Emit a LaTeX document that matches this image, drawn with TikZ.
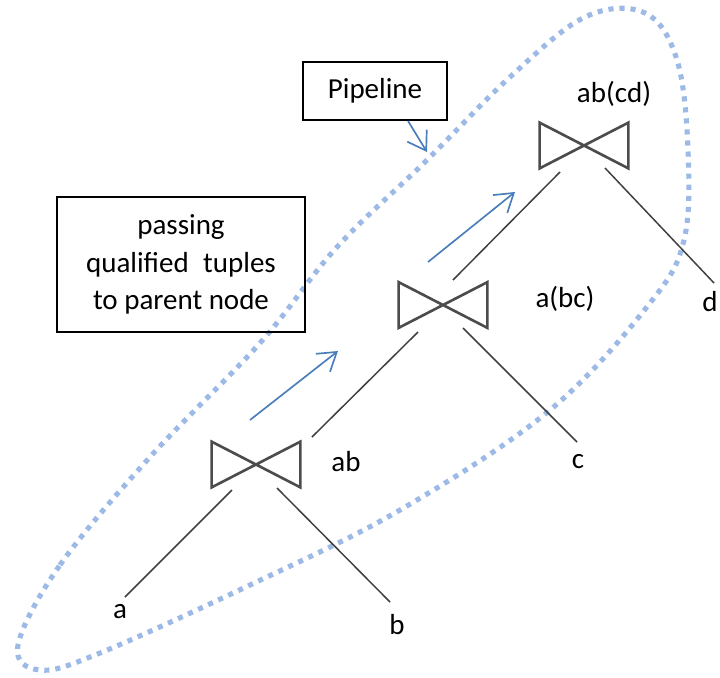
\documentclass[tikz,border=0pt]{standalone}
\usepackage{fontspec}
\setmainfont{Carlito}
\usetikzlibrary{arrows.meta}
\definecolor{hullBlue}{HTML}{9DBAE6}
\definecolor{flowBlue}{HTML}{4A7EBB}
\definecolor{edgeGray}{HTML}{404040}
\tikzset{
  % Join operator (bow tie)
  joinOp/.style={
    rectangle, inner sep=0pt,
    minimum width=1.76cm, minimum height=0.9cm
  },
  joinLine/.style={
    draw=black!70, line width=1.5pt, line join=miter
  },
  % Relation labels
  relLabel/.style={
    inner sep=1pt, font=\fontsize{16.5}{20}\selectfont
  },
  % Annotation boxes
  noteBox/.style={
    draw, line width=1.1pt, align=center, inner sep=0pt,
    font=\fontsize{16.5}{21.3}\selectfont
  },
  % Tree edges
  treeEdge/.style={
    draw=edgeGray, line width=0.85pt
  },
  % Pipelining arrows
  flowArrow/.style={
    draw=flowBlue, line width=0.95pt,
    -{Straight Barb[length=10pt, width=13pt]}
  },
  % Pipeline hull
  hull/.style={
    draw=hullBlue, line width=2.9pt,
    dash pattern=on 2.9pt off 3.4pt
  },
}

\begin{document}
\begin{tikzpicture}[x=0.02cm, y=-0.02cm]

  \useasboundingbox (0,0) rectangle (720,677);

  %% ── Pipeline hull ──
  \draw[hull] plot[smooth cycle, tension=0.6] coordinates {
    (18,645) (60,565) (150,457) (260,343) (337,247) (427,160)
    (510,77) (585,17) (645,13) (677,60) (688,150) (684,240)
    (650,303) (550,410) (400,510) (250,585) (100,653) (40,670)};

  %% ── Join operators ──
  \node[joinOp] (ab)   at (256,464.5) {};
  \node[joinOp] (abc)  at (443,305)   {};
  \node[joinOp] (abcd) at (584,145.5) {};
  \foreach \j in {ab, abc, abcd}
    \draw[joinLine] (\j.north west) -- (\j.south east) -- (\j.north east) -- (\j.south west) -- cycle;

  %% ── Labels ──
  \node[relLabel] (labAb)   at (346,462) {ab};
  \node[relLabel] (labAbc)  at (565,299) {a(bc)};
  \node[relLabel] (labAbcd) at (614,94)  {ab(cd)};
  \node[relLabel] (a) at (120,612) {a};
  \node[relLabel] (b) at (397,625) {b};
  \node[relLabel] (c) at (578,462) {c};
  \node[relLabel] (d) at (710,302) {d};

  %% ── Tree edges ──
  \draw[treeEdge] ([shift={(-24,25.5)}]ab.center) -- ([shift={(5,-15)}]a.center);
  \draw[treeEdge] ([shift={(21,23.5)}]ab.center) -- ([shift={(-7,-23)}]b.center);
  \draw[treeEdge] ([shift={(56,-27.5)}]ab.center) -- ([shift={(-25,27)}]abc.center);
  \draw[treeEdge] ([shift={(20,23)}]abc.center) -- ([shift={(-1,-20)}]c.center);
  \draw[treeEdge] ([shift={(10,-25)}]abc.center) -- ([shift={(-24,26.5)}]abcd.center);
  \draw[treeEdge] ([shift={(21,22.5)}]abcd.center) -- ([shift={(4,-19)}]d.center);

  %% ── Notes ──
  \node[noteBox, minimum width=2.88cm, minimum height=1.16cm] (pipe) at (375,91) {Pipeline};
  \node[noteBox, minimum width=4.96cm, minimum height=2.7cm] (passing) at (181,264.5)
    {passing\\qualified\enspace tuples\\to parent node};

  %% ── Arrows ──
  \coordinate (pipeTip) at (427,152);
  \coordinate (flowA) at (250,420);
  \coordinate (flowATip) at (338,351);
  \coordinate (flowB) at (428,262);
  \coordinate (flowBTip) at (515,192);
  \draw[flowArrow] ([shift={(33,0)}]pipe.south) -- (pipeTip);
  \draw[flowArrow] (flowA) -- (flowATip);
  \draw[flowArrow] (flowB) -- (flowBTip);

\end{tikzpicture}
\end{document}
